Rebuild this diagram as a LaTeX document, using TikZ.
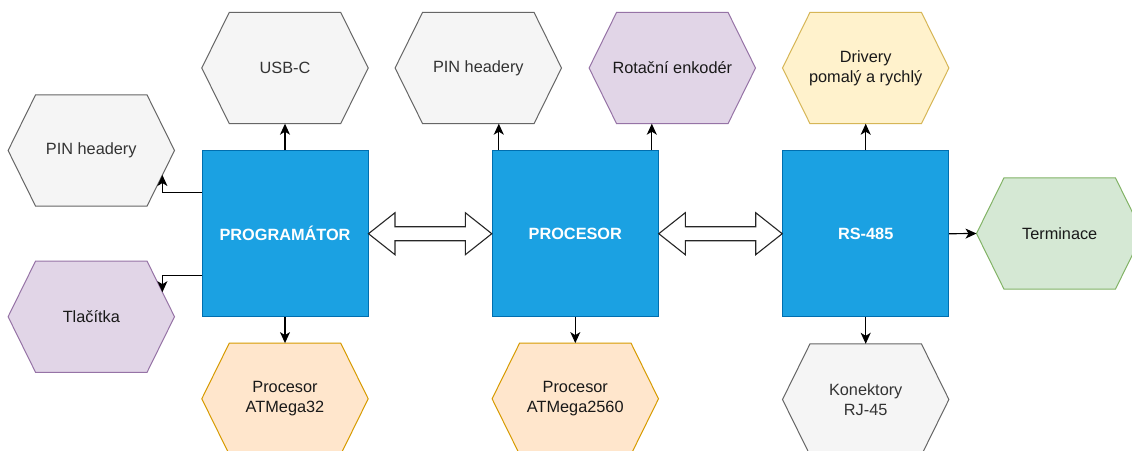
\documentclass[tikz,border=0pt]{standalone}
\usepackage{fontspec}
\setmainfont{Liberation Sans}
\usetikzlibrary{calc,backgrounds,arrows.meta}
\definecolor{bxfill}{HTML}{1BA1E2}
\definecolor{bxline}{HTML}{006EAF}
\definecolor{grfill}{HTML}{F5F5F5}
\definecolor{grline}{HTML}{666666}
\definecolor{grtext}{HTML}{333333}
\definecolor{pufill}{HTML}{E1D5E7}
\definecolor{puline}{HTML}{9673A6}
\definecolor{orfill}{HTML}{FFE6CC}
\definecolor{orline}{HTML}{D79B00}
\definecolor{yefill}{HTML}{FFF2CC}
\definecolor{yeline}{HTML}{D6B656}
\definecolor{gnfill}{HTML}{D5E8D4}
\definecolor{gnline}{HTML}{82B366}
\newcommand\hexpath[2]{\path[#2] ($(#1.north west)+(27.5,0)$) -- ($(#1.north east)+(-27.5,0)$) -- (#1.east) -- ($(#1.south east)+(-27.5,0)$) -- ($(#1.south west)+(27.5,0)$) -- (#1.west) -- cycle;}
\newcommand\fatarrow[2]{\path[fatar] (#1.east) -- ($(#1.east)+(26.5,-21)$) -- ($(#1.east)+(26.5,-7)$) -- ($(#2.west)+(-26.5,-7)$) -- ($(#2.west)+(-26.5,-21)$) -- (#2.west) -- ($(#2.west)+(-26.5,21)$) -- ($(#2.west)+(-26.5,7)$) -- ($(#1.east)+(26.5,7)$) -- ($(#1.east)+(26.5,21)$) -- cycle;}
\begin{document}
\begin{tikzpicture}[x=1pt,y=-1pt,
  hexn/.style={rectangle, minimum width=166pt, minimum height=111pt, inner sep=0pt, align=center,
    font=\fontsize{16.3}{20}\selectfont, text=#1},
  blk/.style={rectangle, draw=bxline, fill=bxfill, line width=1pt, minimum width=166pt, minimum height=166pt,
    inner sep=0pt, text=white, font=\fontsize{16.3}{20}\selectfont\bfseries},
  grhex/.style={draw=grline, fill=grfill, line width=1pt},
  puhex/.style={draw=puline, fill=pufill, line width=1pt},
  orhex/.style={draw=orline, fill=orfill, line width=1pt},
  yehex/.style={draw=yeline, fill=yefill, line width=1pt},
  gnhex/.style={draw=gnline, fill=gnfill, line width=1pt},
  fatar/.style={draw=black!85, fill=white, line width=1.1pt, line join=miter},
  arr/.style={draw=black, line width=1.2pt, -{Stealth[length=11pt,width=10pt,inset=3pt]}}
]
\useasboundingbox (0,0) rectangle (1132,450);
\clip (0,0) rectangle (1132,450);

% blocks
\node[blk] (prog) at (285,233.7) {PROGRAMÁTOR};
\node[blk] (proc) at (575.3,233.7) {PROCESOR};
\node[blk] (rs) at (865.7,233.7) {RS-485};

% hexagon nodes
\node[hexn=grtext] (usb) at (285,68) {USB-C};
\node[hexn=grtext] (pinL) at (91.3,150.5) {PIN headery};
\node[hexn=black!90] (tla) at (91.3,316.7) {Tlačítka};
\node[hexn=black!90] (atm32) at (285,398.8) {Procesor\\ATMega32};
\node[hexn=grtext] (pinM) at (478.3,68) {PIN headery};
\node[hexn=black!90] (rot) at (672.3,68) {Rotační enkodér};
\node[hexn=black!90] (atm2560) at (575.3,398.8) {Procesor\\ATMega2560};
\node[hexn=black!90] (drv) at (865.7,68) {Drivery\\pomalý a rychlý};
\node[hexn=black!90] (term) at (1059.7,233.5) {Terminace};
\node[hexn=grtext] (kon) at (865.7,399.5) {Konektory\\RJ-45};

\begin{pgfonlayer}{background}
\fill[white] (0,0) rectangle (1132,450);
\hexpath{usb}{grhex}
\hexpath{pinL}{grhex}
\hexpath{tla}{puhex}
\hexpath{atm32}{orhex}
\hexpath{pinM}{grhex}
\hexpath{rot}{puhex}
\hexpath{atm2560}{orhex}
\hexpath{drv}{yehex}
\hexpath{term}{gnhex}
\hexpath{kon}{grhex}
\end{pgfonlayer}

% edge points on slanted hexagon sides
\coordinate (pinLe) at ($($(pinL.south east)+(-27.5,0)$)!0.56!(pinL.east)$);
\coordinate (tlaE) at ($($(tla.north east)+(-27.5,0)$)!0.56!(tla.east)$);

% connectors
\draw[arr] (prog.north) -- (usb.south);
\draw[arr] (prog.south) -- (atm32.north);
\draw[arr] ([yshift=41.4pt]prog.west) -| (pinLe);
\draw[arr] ([yshift=-41.4pt]prog.west) -| (tlaE);
\draw[arr] ([xshift=7pt]proc.north west) -- ([xshift=7pt]proc.north west |- pinM.south);
\draw[arr] ([xshift=-7pt]proc.north east) -- ([xshift=-7pt]proc.north east |- rot.south);
\draw[arr] (proc.south) -- (atm2560.north);
\draw[arr] (rs.north) -- (drv.south);
\draw[arr] (rs.east) -- (term.west);
\draw[arr] (rs.south) -- (kon.north);

% bidirectional fat arrows
\fatarrow{prog}{proc}
\fatarrow{proc}{rs}
\end{tikzpicture}
\end{document}
